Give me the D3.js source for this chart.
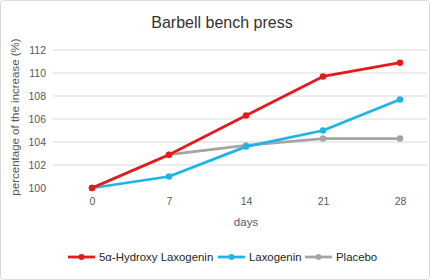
<!DOCTYPE html>
<html><head><meta charset="utf-8">
<script src="https://cdn.jsdelivr.net/npm/d3@7"></script>
<style>
html,body{margin:0;padding:0;background:#fff;}
svg{display:block;font-family:"Liberation Sans","DejaVu Sans",sans-serif;}
</style></head>
<body>
<svg id="chart" width="430" height="280"></svg>
<script>
const days = [0, 7, 14, 21, 28];
const yTicks = [100, 102, 104, 106, 108, 110, 112];
const seriesNames = ["5α-Hydroxy Laxogenin", "Laxogenin", "Placebo"];
const hydroxyValues = [100, 102.9, 106.3, 109.7, 110.9];
const laxogeninValues = [100, 101.0, 103.6, 105.0, 107.7];
const placeboValues = [100, 102.9, 103.7, 104.3, 104.3];
const colors = ["#e41a1c", "#1fb4e8", "#a5a5a5"];

const series = [
  {name: seriesNames[0], values: hydroxyValues, color: colors[0]},
  {name: seriesNames[1], values: laxogeninValues, color: colors[1]},
  {name: seriesNames[2], values: placeboValues, color: colors[2]}
];

const svg = d3.select("#chart");
const W = 430, H = 280;

svg.append("rect").attr("x", 0.5).attr("y", 0.5).attr("width", W - 1).attr("height", H - 1)
  .attr("rx", 3).attr("fill", "#fff").attr("stroke", "#d9d9d9");

const x = d3.scalePoint().domain(days).range([92, 400]);
const y = d3.scaleLinear().domain([100, 112]).range([188, 50]);

// gridlines
svg.append("g").selectAll("line").data(yTicks.filter(t => t > 100)).join("line")
  .attr("x1", 53).attr("x2", 427)
  .attr("y1", d => y(d)).attr("y2", d => y(d))
  .attr("stroke", "#d9d9d9").attr("stroke-width", 1);

// y axis labels
const yAxis = d3.axisLeft(y).tickValues(yTicks).tickSize(0).tickPadding(0).tickFormat(d3.format("d"));
const gy = svg.append("g").attr("transform", "translate(46,0)").call(yAxis);
gy.select(".domain").remove();
gy.selectAll("text").attr("fill", "#595959").attr("font-size", 10.5)
  .attr("font-family", "Liberation Sans, sans-serif");

// x axis labels
const xAxis = d3.axisBottom(x).tickSize(0).tickPadding(0);
const gx = svg.append("g").attr("transform", "translate(0,198)").call(xAxis);
gx.select(".domain").remove();
gx.selectAll("text").attr("fill", "#595959").attr("font-size", 10.5)
  .attr("font-family", "Liberation Sans, sans-serif");

// title
svg.append("text").attr("x", 222).attr("y", 28).attr("text-anchor", "middle")
  .attr("font-size", 16).attr("fill", "#333").text("Barbell bench press");

// axis titles
svg.append("text").attr("x", 246).attr("y", 226).attr("text-anchor", "middle")
  .attr("font-size", 11.5).attr("fill", "#595959").text("days");
svg.append("text").attr("transform", "translate(19,117) rotate(-90)").attr("text-anchor", "middle")
  .attr("font-size", 11.5).attr("fill", "#595959").text("percentage of the increase (%)");

// lines
const line = d3.line().x((d, i) => x(days[i])).y(d => y(d));
const gs = svg.append("g").selectAll("g").data(series.slice().reverse()).join("g");
gs.append("path").attr("d", d => line(d.values)).attr("fill", "none")
  .attr("stroke", d => d.color).attr("stroke-width", 2.75).attr("stroke-linejoin", "round");
gs.selectAll("circle").data(d => d.values.map((v, i) => ({v, i, c: d.color}))).join("circle")
  .attr("cx", d => x(days[d.i])).attr("cy", d => y(d.v)).attr("r", 3.25).attr("fill", d => d.c);

// legend
const legendX = [68, 218, 305];
const lg = svg.append("g").selectAll("g").data(series).join("g")
  .attr("transform", (d, i) => `translate(${legendX[i]},257)`);
lg.append("line").attr("x1", 0).attr("x2", 27).attr("y1", 0).attr("y2", 0)
  .attr("stroke", d => d.color).attr("stroke-width", 2.75);
lg.append("circle").attr("cx", 13.5).attr("cy", 0).attr("r", 3).attr("fill", d => d.color);
lg.append("text").attr("x", 31).attr("y", 4).attr("font-size", 11.4).attr("fill", "#262626")
  .text(d => d.name);
</script>
</body></html>
